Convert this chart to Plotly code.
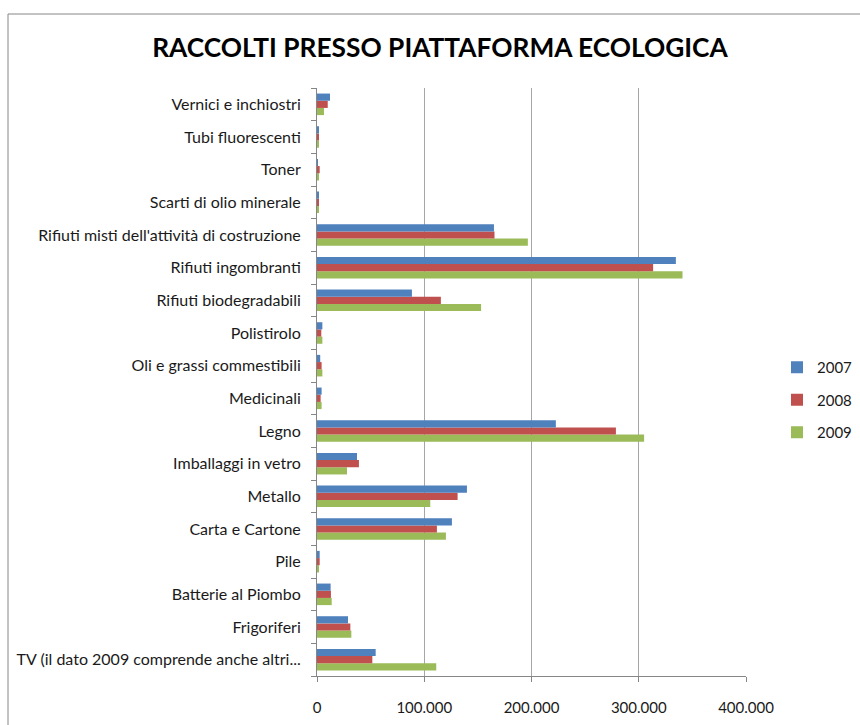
import plotly.graph_objects as go

# Materiali raccolti (dal basso verso l'alto come appaiono nel grafico)
categorie = [
    "TV (il dato 2009 comprende anche altri...",
    "Frigoriferi",
    "Batterie al Piombo",
    "Pile",
    "Carta e Cartone",
    "Metallo",
    "Imballaggi in vetro",
    "Legno",
    "Medicinali",
    "Oli e grassi commestibili",
    "Polistirolo",
    "Rifiuti biodegradabili",
    "Rifiuti ingombranti",
    "Rifiuti misti dell'attività di costruzione",
    "Scarti di olio minerale",
    "Toner",
    "Tubi fluorescenti",
    "Vernici e inchiostri",
]

valori_2007 = [54700, 28900, 12700, 2500, 125800, 139800, 37300, 222700, 4300, 3000,
               5000, 88500, 334600, 165000, 1500, 300, 1000, 12100]
valori_2008 = [51600, 31100, 13000, 2500, 111800, 131100, 39100, 278700, 3400, 4300,
               4000, 115500, 313400, 165500, 1500, 2500, 1000, 10000]
valori_2009 = [111200, 32000, 13700, 1600, 120200, 105600, 28000, 305000, 4300, 5000,
               5000, 153000, 340800, 196600, 1500, 1000, 1000, 6500]

# (nome, valori, colore, posizione in legenda)
serie = [
    ("2009", valori_2009, "#9BBB59", 3),
    ("2008", valori_2008, "#C0504D", 2),
    ("2007", valori_2007, "#4F81BD", 1),
]

tick_valori = [0, 100000, 200000, 300000, 400000]
tick_testi = ["0", "100.000", "200.000", "300.000", "400.000"]

fig = go.Figure()
for nome, valori, colore, rango in serie:
    fig.add_trace(go.Bar(
        y=categorie, x=valori, name=nome, orientation="h",
        legendgroup=nome, legendrank=rango,
        marker=dict(color=colore, line=dict(width=0)),
    ))

W, H = 860, 725
ml, mr, mt, mb = 317, 114, 88, 49
pw, ph = W - ml - mr, H - mt - mb

fig.update_layout(
    width=W, height=H,
    margin=dict(l=ml, r=mr, t=mt, b=mb, pad=0, autoexpand=False),
    paper_bgcolor="white", plot_bgcolor="white",
    barmode="group", bargap=0.34, bargroupgap=0,
    font=dict(family="Lato", size=16, color="#1a1a1a"),
    title=dict(
        text="<b>RACCOLTI PRESSO PIATTAFORMA ECOLOGICA</b>",
        x=440 / W, xanchor="center", y=1 - 48 / H, yanchor="middle",
        font=dict(family="Lato", size=26.3, color="#000000"),
    ),
    legend=dict(
        traceorder="grouped", x=(777 - ml) / pw, xanchor="left",
        y=(H - mb - 400) / ph, yanchor="middle",
        font=dict(size=15, color="#1a1a1a"), itemwidth=30, tracegroupgap=10,
        bgcolor="rgba(0,0,0,0)",
    ),
    xaxis=dict(
        range=[0, 400000], tickvals=tick_valori, ticktext=tick_testi,
        showgrid=True, gridcolor="#a6a6a6", gridwidth=1,
        showline=True, linecolor="#868686", linewidth=1,
        ticks="outside", ticklen=5, tickcolor="#868686",
        zeroline=False, ticklabelstandoff=13,
        tickfont=dict(size=15, color="#1a1a1a"),
    ),
    yaxis=dict(
        showline=True, linecolor="#868686", linewidth=1,
        ticks="outside", ticklen=5, tickcolor="#868686", tickson="boundaries",
        showgrid=False, ticklabelstandoff=12,
        tickfont=dict(size=16, color="#1a1a1a"),
    ),
    shapes=[dict(
        type="rect", xref="paper", yref="paper",
        x0=(8 - ml) / pw, x1=1 + (W + 20 - ml - pw) / pw,
        y0=-(mb + 20) / ph, y1=1 + (mt - 14) / ph,
        line=dict(color="#868686", width=1), layer="below",
    )],
)

fig.write_html("out.html")
